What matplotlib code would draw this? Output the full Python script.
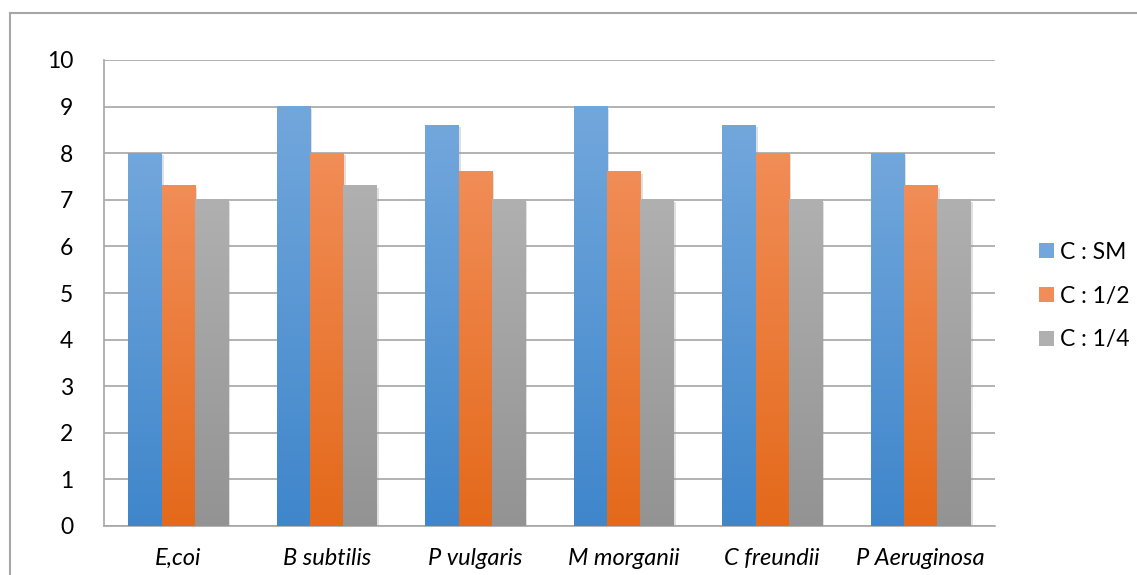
import numpy as np
import matplotlib.pyplot as plt
from matplotlib.colors import LinearSegmentedColormap
from matplotlib.patches import Rectangle
from matplotlib.lines import Line2D
import matplotlib.patheffects as pe

plt.rcParams['font.family'] = ['Lato', 'DejaVu Sans']

# bacteria and inhibition values for each concentration
bacteria = ['E,coi', 'B subtilis', 'P vulgaris', 'M morganii', 'C freundii', 'P Aeruginosa']
c_sm = [8, 9, 8.6, 9, 8.6, 8]
c_half = [7.3, 8, 7.6, 7.6, 8, 7.3]
c_quarter = [7, 7.3, 7, 7, 7, 7]
series_names = ['C : SM', 'C : 1/2', 'C : 1/4']

# (top, bottom) shades for the gradient fill of each series
shades = [('#72a7dc', '#3f86cb'), ('#f18d57', '#e4691a'), ('#b0b0b0', '#939393')]

fig = plt.figure(figsize=(11.37, 5.75), dpi=100)
ax = fig.add_axes([104 / 1137, 1 - 526 / 575, 891 / 1137, 466 / 575])

x = np.arange(len(bacteria))
w = 0.225
grad = np.linspace(0, 1, 256).reshape(-1, 1)

for i, (vals, (top, bot)) in enumerate(zip([c_sm, c_half, c_quarter], shades)):
    cmap = LinearSegmentedColormap.from_list('g%d' % i, [bot, top])
    for xi, v in zip(x, vals):
        left = xi + (i - 1) * w - w / 2
        shadow = Rectangle((left, 0), w, v, facecolor='white', edgecolor='none', zorder=2,
                           path_effects=[pe.SimplePatchShadow(offset=(1.5, -1.5), shadow_rgbFace='#999999', alpha=0.3)])
        ax.add_patch(shadow)
        ax.imshow(grad, extent=(left, left + w, 0, v), origin='lower', cmap=cmap,
                  aspect='auto', zorder=3, interpolation='bilinear')

ax.set_xlim(-0.5, len(bacteria) - 0.5)
ax.set_ylim(0, 10)
ax.set_yticks(range(0, 11))
ax.yaxis.grid(True, color='#a6a6a6', linewidth=1.2)
ax.set_axisbelow(True)
for s in ['top', 'right']:
    ax.spines[s].set_visible(False)
ax.spines['left'].set_color('#a6a6a6')
ax.spines['bottom'].set_color('#a6a6a6')
ax.spines['left'].set_linewidth(1.2)
ax.spines['bottom'].set_linewidth(1.2)
ax.tick_params(axis='y', length=0, pad=22, labelsize=16.5)
ax.tick_params(axis='x', length=0, pad=16, labelsize=17)
ax.set_xticks(x)
ax.set_xticklabels(bacteria, style='italic')

handles = [Rectangle((0, 0), 1, 1, facecolor=t) for t, b in shades]
fig.legend(handles, series_names, loc='center left', bbox_to_anchor=(1018 / 1137, 1 - 296 / 575),
           frameon=False, fontsize=16.5, handlelength=0.65, handleheight=0.65,
           handletextpad=0.3, labelspacing=1.0)

# chart frame
fig.add_artist(Line2D([10 / 1137, 10 / 1137], [0, 1 - 13 / 575], color='#a6a6a6', linewidth=1.5))
fig.add_artist(Line2D([10 / 1137, 1], [1 - 13 / 575, 1 - 13 / 575], color='#a6a6a6', linewidth=1.5))

fig.savefig('out.png', dpi=100)
